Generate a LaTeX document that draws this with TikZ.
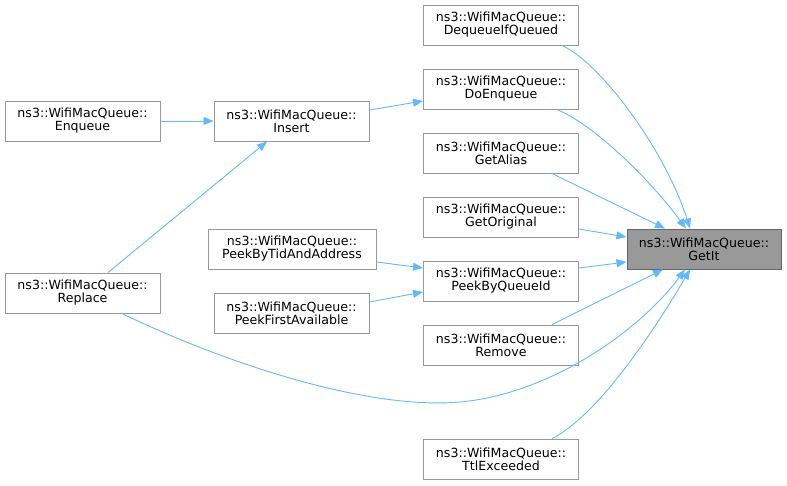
\documentclass[tikz,border=0pt]{standalone}
\usepackage{fontspec}
\setmainfont{DejaVu Sans}
\usetikzlibrary{arrows.meta}
\definecolor{edgeblue}{HTML}{63B8FF}
\definecolor{boxgray}{HTML}{999999}
\definecolor{darkgray}{HTML}{666666}
\tikzset{
  fn/.style={draw=boxgray, line width=1pt, fill=white, minimum width=155pt, minimum height=40pt,
    inner sep=0pt, align=center, font=\fontsize{12.6}{13}\selectfont},
  focus/.style={fn, fill=boxgray, draw=darkgray, minimum width=154pt},
  call/.style={draw=edgeblue, line width=0.9pt, -{Triangle[length=10pt,width=8pt]}}
}
\begin{document}
\begin{tikzpicture}[x=1pt,y=-1pt]
\useasboundingbox (0,0) rectangle (787,485);
\node[fn] (deq) at (501,25) {ns3::WifiMacQueue::\\DequeueIfQueued};
\node[fn] (doe) at (501,89) {ns3::WifiMacQueue::\\DoEnqueue};
\node[fn] (ali) at (501,153) {ns3::WifiMacQueue::\\GetAlias};
\node[fn] (geto) at (501,217) {ns3::WifiMacQueue::\\GetOriginal};
\node[focus] (git) at (704,249) {ns3::WifiMacQueue::\\GetIt};
\node[fn] (pq) at (501,281) {ns3::WifiMacQueue::\\PeekByQueueId};
\node[fn] (rem) at (501,345) {ns3::WifiMacQueue::\\Remove};
\node[fn] (ttl) at (501,459) {ns3::WifiMacQueue::\\TtlExceeded};
\node[fn] (enq) at (82.5,121) {ns3::WifiMacQueue::\\Enqueue};
\node[fn] (ins) at (291.5,121) {ns3::WifiMacQueue::\\Insert};
\node[fn, minimum width=168pt] (ptid) at (292,249) {ns3::WifiMacQueue::\\PeekByTidAndAddress};
\node[fn] (pfa) at (291.5,313) {ns3::WifiMacQueue::\\PeekFirstAvailable};
\node[fn] (rep) at (82.5,293) {ns3::WifiMacQueue::\\Replace};
\coordinate (low) at (460,402);

\draw[call] (enq) -- (ins);
\draw[call] ([xshift=25.5pt]rep.north) -- ([xshift=-24.5pt]ins.south);
\draw[call] ([yshift=11pt]ins.east) -- ([yshift=-12pt]doe.west);
\draw[call] ([yshift=-13pt]ptid.east) -- ([yshift=13pt]pq.west);
\draw[call] ([yshift=11pt]pfa.east) -- ([yshift=-11pt]pq.west);
\draw[call] ([yshift=-12pt]geto.east) -- ([yshift=12pt]git.west);
\draw[call] ([yshift=13pt]pq.east) -- ([yshift=-13pt]git.west);
\draw[call] ([xshift=51pt]ali.south) -- ([xshift=-39pt]git.north);
\draw[call] ([xshift=51pt]rem.north) -- ([xshift=-41pt]git.south);
\draw[call] ([xshift=61pt]deq.south) .. controls +(38,17) and +(-25,-79) .. ([xshift=-14pt]git.north);
\draw[call] ([xshift=56pt]doe.south) .. controls +(38,16) and +(-36,-49) .. ([xshift=-18pt]git.north);
\draw[call] ([xshift=51pt]ttl.north) .. controls +(45,-22) and +(-35,60) .. ([xshift=-14pt]git.south);
\draw[call] ([xshift=39.5pt]rep.south) .. controls +(108,52) and +(-90,8) .. (low)
  .. controls +(90,-8) and +(-45,61) .. ([xshift=-19pt]git.south);
\end{tikzpicture}
\end{document}
